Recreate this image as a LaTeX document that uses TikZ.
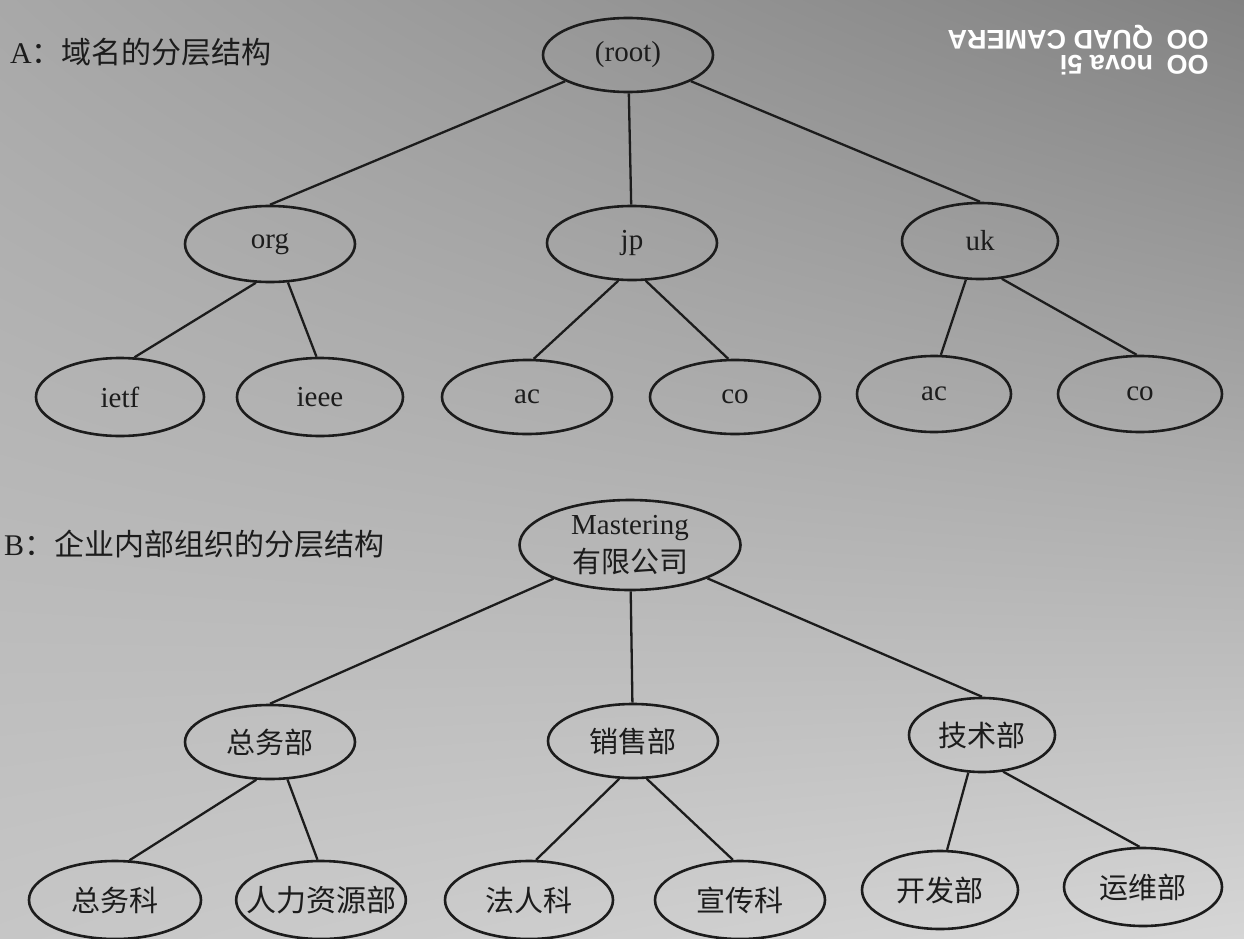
\documentclass[tikz,border=0pt]{standalone}
\usepackage{fontspec}
\setmainfont{Liberation Serif}
\newfontfamily\cjk{Noto Sans CJK SC}
\newfontfamily\wmfont{Liberation Sans}
\usetikzlibrary{shapes.geometric,shadings}
\definecolor{ink}{HTML}{1C1C1C}
\definecolor{bgul}{RGB}{168,168,168}
\definecolor{bgur}{RGB}{130,130,130}
\definecolor{bgll}{RGB}{198,198,198}
\definecolor{bglr}{RGB}{214,214,214}
\tikzset{
  el/.style={ellipse, draw=ink, line width=2.6pt, inner sep=0pt,
    minimum width=170pt, minimum height=74pt, font=\fontsize{29}{31}\selectfont, text=ink},
  big/.style={minimum width=168pt, minimum height=78pt},
  cj/.style={font=\cjk\fontsize{29}{31}\selectfont},
  edge/.style={draw=ink, line width=2.3pt},
  title/.style={anchor=west, inner sep=0pt, text=ink, font=\fontsize{30}{32}\selectfont}
}
\begin{document}
\begin{tikzpicture}[x=1pt,y=-1pt]
\useasboundingbox (0,0) rectangle (1244,939);
\shade[upper left=bgul, upper right=bgur, lower left=bgll, lower right=bglr]
  (0,0) rectangle (1244,939);

% watermark
\node[rotate=180, text=white, align=left, inner sep=0pt, font=\wmfont\bfseries\fontsize{27}{25}\selectfont]
  (wm) at (1078,50) {OO\enspace nova 5i\\OO\enspace QUAD CAMERA};

% titles
\node[title] (ta) at (10,52) {A{\cjk ：域名的分层结构}};
\node[title] (tb) at (4,544) {B{\cjk ：企业内部组织的分层结构}};

% Part A
\node[el] (root) at (628,55) {(root)};
\node[el, minimum height=76pt] (org) at (270,244) {org};
\node[el, minimum height=74pt] (jp) at (632,243) {jp};
\node[el, minimum width=156pt, minimum height=76pt] (uk) at (980,241) {uk};
\node[el, big] (ietf) at (120,397) {ietf};
\node[el, big, minimum width=166pt] (ieee) at (320,397) {ieee};
\node[el, big, minimum width=170pt, minimum height=74pt] (ac1) at (527,397) {ac};
\node[el, big, minimum width=170pt, minimum height=74pt] (co1) at (735,397) {co};
\node[el, big, minimum width=154pt, minimum height=76pt] (ac2) at (934,394) {ac};
\node[el, big, minimum width=164pt, minimum height=76pt] (co2) at (1140,394) {co};

\draw[edge] (root) -- (org.north);
\draw[edge] (root) -- (jp);
\draw[edge] (root) -- (uk.north);
\draw[edge] (org.-110) -- (ietf.70);
\draw[edge] (org.-65) -- (ieee.95);
\draw[edge] (jp.-110) -- (ac1.80);
\draw[edge] (jp.-70) -- (co1.100);
\draw[edge] (uk.-110) -- (ac2.80);
\draw[edge] (uk.-60) -- (co2.95);

% Part B
\node[el, minimum width=221pt, minimum height=90pt, align=center] (m) at (630,545)
  {Mastering\\[7pt]{\cjk\fontsize{29}{31}\selectfont 有限公司}};
\node[el, cj] (zwb) at (270,742) {总务部};
\node[el, cj] (xsb) at (633,741) {销售部};
\node[el, cj, minimum width=146pt] (jsb) at (982,735) {技术部};
\node[el, cj, big, minimum width=172pt] (zwk) at (115,900) {总务科};
\node[el, cj, big, minimum width=168pt, inner xsep=-15pt, font=\cjk\fontsize{30}{31}\selectfont] (rlzy) at (321,900) {人力资源部};
\node[el, cj, big, minimum width=168pt] (frk) at (529,900) {法人科};
\node[el, cj, big, minimum width=170pt] (xck) at (740,900) {宣传科};
\node[el, cj, big, minimum width=156pt] (kfb) at (940,890) {开发部};
\node[el, cj, big, minimum width=158pt] (ywb) at (1143,887) {运维部};

\draw[edge] (m) -- (zwb.north);
\draw[edge] (m) -- (xsb);
\draw[edge] (m) -- (jsb.north);
\draw[edge] (zwb.-110) -- (zwk.70);
\draw[edge] (zwb.-65) -- (rlzy.95);
\draw[edge] (xsb.-110) -- (frk.80);
\draw[edge] (xsb.-70) -- (xck.100);
\draw[edge] (jsb.-110) -- (kfb.80);
\draw[edge] (jsb.-60) -- (ywb.95);
\end{tikzpicture}
\end{document}
